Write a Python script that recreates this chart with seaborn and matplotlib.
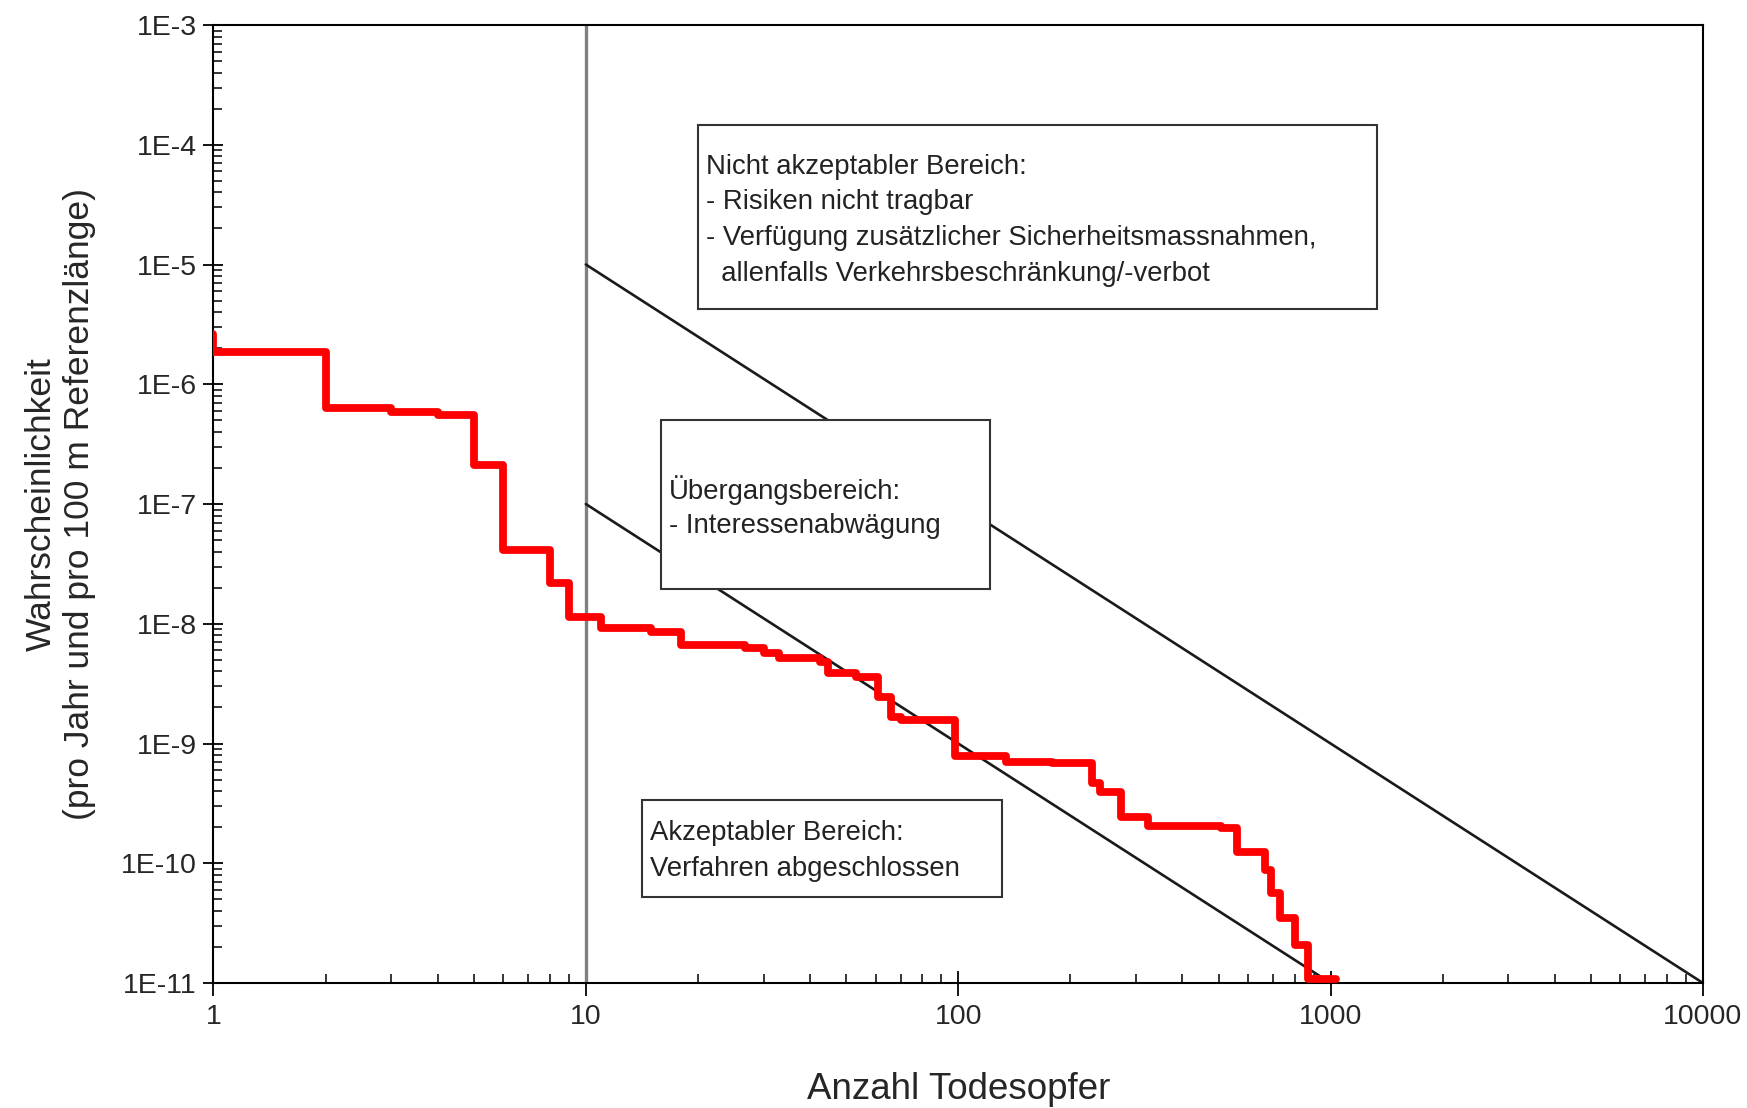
import numpy as np
import pandas as pd
import seaborn as sns
import matplotlib
matplotlib.use('Agg')
import matplotlib.pyplot as plt
from matplotlib.patches import Rectangle
from matplotlib.ticker import FixedLocator, NullFormatter

# Summenkurve (Anzahl Todesopfer vs. Wahrscheinlichkeit)
deaths = [1, 1, 2, 3, 4, 5, 6, 8, 9, 11, 15, 18, 26.7, 30, 33, 42.5, 44.7, 53,
          61, 66, 70, 98, 134, 179, 228, 240, 274, 323, 509, 559, 665, 693,
          730, 800, 869, 1036]
prob = [2.65e-6, 1.87e-6, 6.3e-7, 5.9e-7, 5.5e-7, 2.12e-7, 4.1e-8, 2.2e-8,
        1.15e-8, 9.2e-9, 8.6e-9, 6.65e-9, 6.24e-9, 5.67e-9, 5.14e-9, 4.82e-9,
        3.85e-9, 3.57e-9, 2.46e-9, 1.67e-9, 1.57e-9, 7.8e-10, 7.0e-10, 6.9e-10,
        4.65e-10, 3.96e-10, 2.45e-10, 2.05e-10, 1.96e-10, 1.25e-10, 8.8e-11,
        5.6e-11, 3.47e-11, 2.07e-11, 1.09e-11, 1.09e-11]

# Grenzlinien
upper_x = [10, 10000]
upper_y = [1e-5, 1e-11]
lower_x = [10, 1000]
lower_y = [1e-7, 1e-11]
cutoff_x = 10

x_ticks = [1, 10, 100, 1000, 10000]
x_labels = ['1', '10', '100', '1000', '10000']
y_exp = list(range(-11, -2))
y_labels = [f'1E{e}' for e in y_exp]

box_texts = [
    ['Nicht akzeptabler Bereich:', '- Risiken nicht tragbar',
     '- Verfügung zusätzlicher Sicherheitsmassnahmen,',
     '  allenfalls Verkehrsbeschränkung/-verbot'],
    ['Übergangsbereich:', '- Interessenabwägung'],
    ['Akzeptabler Bereich:', 'Verfahren abgeschlossen'],
]

sns.set_style('ticks')
plt.rcParams['font.family'] = ['Liberation Sans', 'DejaVu Sans']

fig = plt.figure(figsize=(17.47, 11.08), dpi=100)
ax = fig.add_axes([0.1222, 0.1128, 0.8526, 0.8646])
ax.set_xscale('log')
ax.set_yscale('log')

ax.axvline(cutoff_x, color='#808080', lw=2.4, zorder=1)
sns.lineplot(x=upper_x, y=upper_y, ax=ax, color='#1a1a1a', lw=1.9,
             estimator=None, sort=False)
sns.lineplot(x=lower_x, y=lower_y, ax=ax, color='#1a1a1a', lw=1.9,
             estimator=None, sort=False)
curve = pd.DataFrame({'deaths': deaths, 'prob': prob})
sns.lineplot(data=curve, x='deaths', y='prob', ax=ax, color='#ff0000', lw=5.6,
             estimator=None, sort=False, drawstyle='steps-post', zorder=5)

ax.set_xlim(1, 10000)
ax.set_ylim(1e-11, 1e-3)

ax.xaxis.set_major_locator(FixedLocator(x_ticks))
ax.set_xticklabels(x_labels)
ax.yaxis.set_major_locator(FixedLocator([10.0 ** e for e in y_exp]))
ax.set_yticklabels(y_labels)
ax.xaxis.set_minor_formatter(NullFormatter())
ax.yaxis.set_minor_formatter(NullFormatter())
ax.tick_params(which='major', direction='inout', length=18, width=1.3,
               labelsize=20.5, color='black', pad=6)
ax.tick_params(axis='y', which='major', length=14, pad=5)
ax.tick_params(which='minor', direction='in', length=6.5, width=1.1,
               color='black')
for s in ax.spines.values():
    s.set_linewidth(1.5)
    s.set_color('black')

ax.set_xlabel('Anzahl Todesopfer', fontsize=26.5, labelpad=30)
ax.set_ylabel('Wahrscheinlichkeit\n(pro Jahr und pro 100 m Referenzlänge)',
              fontsize=25.5, labelpad=18, linespacing=1.2)

# Textkästen (Achsenbruchteile)
boxes = [(0.3253, 0.7035, 0.4558, 0.1921),
         (0.3004, 0.4113, 0.2209, 0.1764),
         (0.2877, 0.0898, 0.2417, 0.1012)]
text_pos = [(0.3309, 0.852), (0.3055, 0.5147), (0.2928, 0.1565)]
line_step = 0.0372
for (bx, by, bw, bh), (tx, ty), lines in zip(boxes, text_pos, box_texts):
    ax.add_patch(Rectangle((bx, by), bw, bh, transform=ax.transAxes,
                           facecolor='white', edgecolor='#333333', lw=1.5,
                           zorder=3))
    for i, t in enumerate(lines):
        ax.text(tx, ty - i * line_step, t, transform=ax.transAxes,
                fontsize=19.8, va='center', ha='left', color='#222222',
                zorder=4)

fig.savefig('out.png', dpi=100)
